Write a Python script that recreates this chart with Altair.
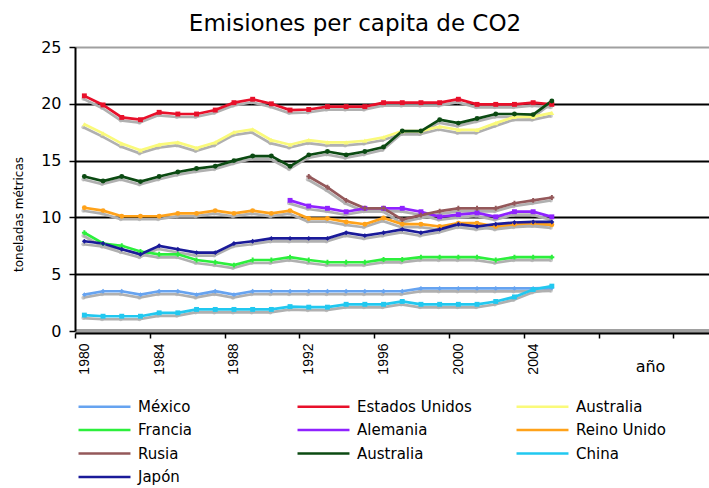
import altair as alt
import pandas as pd

years = list(range(1980, 2006))

series_names = ["México", "Estados Unidos", "Australia", "Francia", "Alemania",
                "Reino Unido", "Rusia", "Australia (2)", "China", "Japón"]
series_colors = ["#66a3f0", "#e8102a", "#fafa7a", "#2cef3c", "#8f22ff",
                 "#ffa21a", "#94585a", "#0b4a12", "#21c8f0", "#1a1a99"]
series_shapes = ["diamond", "square", "triangle-up", "cross", "square",
                 "circle", "cross", "circle", "square", "diamond"]

mexico = [3.2, 3.5, 3.5, 3.2, 3.5, 3.5, 3.2, 3.5, 3.2, 3.5, 3.5, 3.5, 3.5,
          3.5, 3.5, 3.5, 3.5, 3.5, 3.75, 3.75, 3.75, 3.75, 3.75, 3.75, 3.75, 3.8]
usa = [20.7, 19.9, 18.8, 18.6, 19.25, 19.1, 19.1, 19.45, 20.1, 20.4, 20.0, 19.45, 19.5,
       19.75, 19.75, 19.75, 20.1, 20.1, 20.1, 20.1, 20.4, 19.95, 19.95, 19.95, 20.1, 19.95]
australia1 = [18.2, 17.4, 16.5, 15.9, 16.4, 16.6, 16.1, 16.6, 17.5, 17.75, 16.8, 16.4, 16.8,
              16.6, 16.6, 16.75, 17.05, 17.6, 17.6, 18.0, 17.7, 17.7, 18.3, 18.85, 18.85, 19.2]
france = [8.65, 7.7, 7.5, 7.0, 6.75, 6.75, 6.25, 6.05, 5.8, 6.25, 6.25, 6.5, 6.25,
          6.05, 6.05, 6.05, 6.3, 6.3, 6.5, 6.5, 6.5, 6.5, 6.25, 6.5, 6.5, 6.5]
germany = [None] * 11 + [11.5, 11.0, 10.8, 10.5, 10.8, 10.8, 10.8, 10.5, 10.05, 10.25,
                         10.4, 10.05, 10.5, 10.5, 10.05]
uk = [10.85, 10.6, 10.1, 10.1, 10.1, 10.35, 10.35, 10.6, 10.35, 10.6, 10.35, 10.6, 9.9,
      9.9, 9.6, 9.4, 9.95, 9.4, 9.4, 9.2, 9.5, 9.5, 9.2, 9.4, 9.5, 9.35]
russia = [None] * 12 + [13.6, 12.65, 11.5, 10.8, 10.8, 9.8, 10.2, 10.55, 10.8, 10.8,
                        10.8, 11.25, 11.5, 11.75]
australia2 = [13.6, 13.2, 13.6, 13.15, 13.6, 14.0, 14.3, 14.5, 15.0, 15.4, 15.4, 14.5, 15.5,
              15.8, 15.5, 15.8, 16.2, 17.6, 17.6, 18.6, 18.3, 18.7, 19.1, 19.1, 19.05, 20.25]
china = [1.4, 1.3, 1.3, 1.3, 1.6, 1.6, 1.9, 1.9, 1.9, 1.9, 1.9, 2.15, 2.1,
         2.1, 2.35, 2.35, 2.35, 2.6, 2.35, 2.35, 2.35, 2.35, 2.6, 3.0, 3.65, 3.95]
japan = [7.9, 7.7, 7.2, 6.75, 7.5, 7.2, 6.9, 6.9, 7.7, 7.9, 8.15, 8.15, 8.15,
         8.15, 8.65, 8.4, 8.65, 8.95, 8.65, 8.95, 9.4, 9.2, 9.4, 9.55, 9.6, 9.6]

all_values = [mexico, usa, australia1, france, germany, uk, russia, australia2, china, japan]
y_ticks = [0, 5, 10, 15, 20, 25]

rows = []
for i, (name, vals) in enumerate(zip(series_names, all_values)):
    for yr, v in zip(years, vals):
        if v is not None:
            rows.append({"year": yr, "value": v, "series": name, "serie_pt": name, "order": i})
df = pd.DataFrame(rows)

W, H = 634, 284
XMIN = 1979.5
XMAX = XMIN + W / 18.7
half = W / (XMAX - XMIN) / 2

x_enc = alt.X(
    "year:Q",
    scale=alt.Scale(domain=[XMIN, XMAX], nice=False, zero=False),
    axis=alt.Axis(
        values=list(range(1980, 2014)), format="d",
        tickOffset=-half, labelOffset=half,
        labelExpr="(datum.value % 2 == 0 && datum.value <= 2004) ? datum.label : ''",
        labelAngle=270, labelFont="Liberation Sans", labelFontSize=14, labelColor="black",
        labelPadding=5, labelOverlap=False, labelFlush=False,
        tickColor="black", tickSize=5, tickWidth=1.5,
        domainColor="black", domainWidth=2, offset=2, grid=False,
        title="año", titleX=575, titleY=33, titleFont="DejaVu Sans", titleFontSize=16,
        titleFontWeight="normal", titleColor="black", titleBaseline="middle", titleAlign="center",
    ),
)
y_enc = alt.Y(
    "value:Q",
    scale=alt.Scale(domain=[0, 25], nice=False),
    axis=alt.Axis(
        values=y_ticks, grid=True,
        gridColor={"condition": {"test": "datum.value == 25 || datum.value == 0", "value": "#a0a0a0"}, "value": "black"},
        gridWidth={"condition": {"test": "datum.value == 0", "value": 5}, "value": 2},
        domainColor="black", domainWidth=2, tickColor="black", tickSize=6, tickWidth=1.5,
        labelFont="DejaVu Sans", labelFontSize=16, labelColor="black", labelPadding=8,
        title="toneladas métricas", titleFont="DejaVu Sans", titleFontSize=12,
        titleFontWeight="normal", titleColor="black", titleAngle=270,
        titleX=-57, titleY=167, titleAlign="center", titleBaseline="middle",
    ),
)

base = alt.Chart(df)

shadow_line = base.mark_line(color="#b0b0b0", strokeWidth=2.7, yOffset=3, xOffset=-1).encode(
    x=x_enc, y=y_enc, detail="series:N")
shadow_pts = base.mark_point(color="#b0b0b0", filled=True, size=16, yOffset=3, xOffset=-1).encode(
    x="year:Q", y="value:Q", detail="series:N")

color_scale = alt.Scale(domain=series_names, range=series_colors)

lines = base.mark_line(strokeWidth=2.7).encode(
    x="year:Q", y="value:Q",
    color=alt.Color(
        "series:N", scale=color_scale, sort=series_names,
        legend=alt.Legend(
            orient="none", legendX=22, legendY=352, columns=3, direction="horizontal", title=None,
            symbolType="M-4.33,0H4.33", symbolSize=144, symbolStrokeWidth=2.7,
            labelFont="DejaVu Sans", labelFontSize=15, labelColor="black", labelOffset=26,
            columnPadding=39, rowPadding=7.5, gridAlign="all", labelLimit=300,
            labelExpr="datum.label == 'Australia (2)' ? 'Australia' : datum.label",
        ),
    ),
    order="order:Q",
)

pts = base.mark_point(filled=True, size=24, opacity=1).encode(
    x="year:Q", y="value:Q",
    color=alt.Color("serie_pt:N", scale=color_scale, legend=None),
    shape=alt.Shape("serie_pt:N", scale=alt.Scale(domain=series_names, range=series_shapes), legend=None),
)

chart = alt.layer(shadow_line, shadow_pts, lines, pts).resolve_legend(
    color="independent", shape="independent"
).properties(
    width=W, height=H,
    padding={"left": 75, "top": 47, "right": 0, "bottom": 157},
    autosize=alt.AutoSizeParams(type="none"),
    title=alt.Title("Emisiones per capita de CO2", font="DejaVu Sans", fontSize=23,
                    fontWeight="normal", color="black", anchor="middle", dx=-37, offset=3),
    background="white",
).configure_view(stroke=None)

chart.save("out.html", embed_options={"renderer": "svg", "actions": False})
